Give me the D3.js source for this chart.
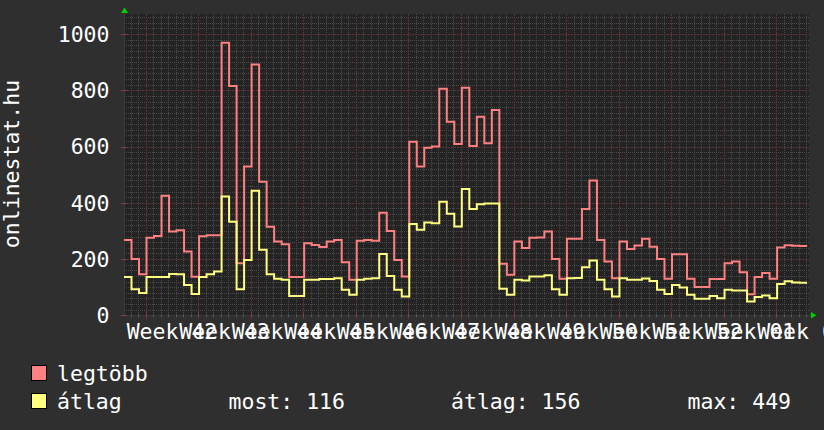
<!DOCTYPE html>
<html><head><meta charset="utf-8">
<script src="https://cdn.jsdelivr.net/npm/d3@7"></script>
<style>html,body{margin:0;padding:0;background:#2f2f2f;}svg{display:block;}</style>
</head><body>
<script>
// ---- data (daily values, one per day) ----
const legtobb = [268,200,146,276,282,425,298,302,227,137,
  281,285,285,969,815,185,529,892,475,315,
  262,253,136,136,256,250,243,262,268,189,
  126,265,268,265,365,300,197,138,617,529,
  596,600,805,688,609,809,602,706,612,730,
  183,144,262,239,276,277,298,200,130,272,
  272,378,479,268,191,132,262,236,248,272,
  244,200,130,217,217,130,101,101,129,129,
  185,191,153,75,136,150,130,241,249,247,246];
const atlag = [136,93,79,136,136,136,147,146,108,76,
  136,146,156,422,333,93,197,443,233,146,
  130,126,69,69,126,126,129,129,132,91,
  73,126,130,132,218,140,91,67,325,304,
  330,327,404,361,316,449,378,395,397,397,
  94,73,126,124,138,138,142,93,73,132,
  133,171,195,126,93,67,132,126,126,131,
  122,91,76,108,99,73,59,59,69,61,
  91,88,88,49,65,70,61,111,121,117,116];
const weekLabels = ["Week 42","Week 43","Week 44","Week 45","Week 46","Week 47","Week 48",
  "Week 49","Week 50","Week 51","Week 52","Week 01","Week 02"];
const yTicks = [0,200,400,600,800,1000];
const seriesNames = ["legtöbb","átlag"];
const seriesColors = ["#ff8080","#ffff80"];
const statLabels = ["most: 116","átlag: 156","max: 449"];
const yTitle = "onlinestat.hu";
const firstWeekStart = 2.89; // day offset of first week boundary from left edge
const totalDays = 91.25;

const W = 824, H = 430;
const L = 124, R = 809, T = 14, B = 315.3;
const FONT = "'DejaVu Sans Mono', monospace";
const FS = "21.5px";

const svg = d3.select("body").append("svg").attr("width", W).attr("height", H);
svg.append("rect").attr("width", W).attr("height", H).attr("fill", "#2f2f2f");
svg.append("rect").attr("x", L).attr("y", T).attr("width", R - L).attr("height", B - T).attr("fill", "#232323");

const x = d3.scaleLinear().domain([0, totalDays]).range([L, R]);
const y = d3.scaleLinear().domain([0, 1000]).range([B, 34]);
const yTop = y.invert(T);

const g = svg.append("g");
// minor horizontal grid
const minorY = d3.range(20, yTop, 20).filter(v => v % 200 !== 0);
g.selectAll(".hm").data(minorY).enter().append("line")
  .attr("x1", L).attr("x2", R)
  .attr("y1", d => Math.round(y(d)) + 0.5).attr("y2", d => Math.round(y(d)) + 0.5)
  .attr("stroke", "#4a4a4a").attr("stroke-dasharray", "1,1");
// minor vertical grid (daily)
const minorDays = d3.range(firstWeekStart - Math.floor(firstWeekStart), totalDays, 1)
  .filter(d => Math.abs(((d - firstWeekStart) / 7) - Math.round((d - firstWeekStart) / 7)) > 0.01);
g.selectAll(".vm").data(minorDays).enter().append("line")
  .attr("y1", T).attr("y2", B)
  .attr("x1", d => Math.round(x(d)) + 0.5).attr("x2", d => Math.round(x(d)) + 0.5)
  .attr("stroke", "#4a4a4a").attr("stroke-dasharray", "1,1");
// major grid
const weekTicks = weekLabels.map((_, i) => firstWeekStart + 7 * i);
g.selectAll(".hM").data(yTicks.filter(v => v > 0)).enter().append("line")
  .attr("x1", L).attr("x2", R)
  .attr("y1", d => Math.round(y(d)) + 0.5).attr("y2", d => Math.round(y(d)) + 0.5)
  .attr("stroke", "#603434").attr("stroke-dasharray", "2,1");
g.selectAll(".vM").data(weekTicks).enter().append("line")
  .attr("y1", T).attr("y2", B)
  .attr("x1", d => Math.round(x(d)) + 0.5).attr("x2", d => Math.round(x(d)) + 0.5)
  .attr("stroke", "#603434").attr("stroke-dasharray", "2,1");

// axes lines + ticks
const ax = svg.append("g");
ax.append("line").attr("x1", L - 2).attr("x2", R + 2).attr("y1", Math.round(B) + 0.5).attr("y2", Math.round(B) + 0.5).attr("stroke", "#3a3a3a");
ax.append("line").attr("x1", L + 0.5).attr("x2", L + 0.5).attr("y1", T - 2).attr("y2", B + 2).attr("stroke", "#3a3a3a");
ax.selectAll(".xt").data(minorDays).enter().append("line")
  .attr("x1", d => Math.round(x(d)) + 0.5).attr("x2", d => Math.round(x(d)) + 0.5)
  .attr("y1", B - 1).attr("y2", B + 2).attr("stroke", "#5a5a5a");
ax.selectAll(".xT").data(weekTicks).enter().append("line")
  .attr("x1", d => Math.round(x(d)) + 0.5).attr("x2", d => Math.round(x(d)) + 0.5)
  .attr("y1", B - 3).attr("y2", B + 3).attr("stroke", "#8a3c3c");
ax.selectAll(".yT").data(yTicks).enter().append("line")
  .attr("x1", L - 3).attr("x2", L + 3)
  .attr("y1", d => Math.round(y(d)) + 0.5).attr("y2", d => Math.round(y(d)) + 0.5)
  .attr("stroke", "#8a3c3c");

// arrows
svg.append("path").attr("d", `M${L - 3},13 L${L + 4},13 L${L + 0.5},7.5 Z`).attr("fill", "#00d000");
svg.append("path").attr("d", `M${R + 2},312 L${R + 2},318.5 L${R + 7.5},315.3 Z`).attr("fill", "#00d000");

// series lines (step)
const line = d3.line().x(d => x(d[0])).y(d => y(d[1])).curve(d3.curveStepAfter);
[legtobb, atlag].forEach((s, si) => {
  const pts = s.map((v, i) => [i, v]);
  pts.push([s.length, s[s.length - 1]]);
  svg.append("path").attr("d", line(pts)).attr("fill", "none")
    .attr("stroke", seriesColors[si]).attr("stroke-width", 2);
});

// y tick labels
svg.selectAll(".yl").data(yTicks).enter().append("text")
  .attr("x", 109.5).attr("y", d => y(d) + 7.8)
  .attr("text-anchor", "end").attr("fill", "#ffffff")
  .style("font-family", FONT).style("font-size", FS).text(d => d);
// x tick labels (centred on week)
svg.selectAll(".xl").data(weekLabels).enter().append("text")
  .attr("x", (d, i) => x(weekTicks[i] + 3.5)).attr("y", 339)
  .attr("text-anchor", "middle").attr("fill", "#ffffff")
  .style("font-family", FONT).style("font-size", FS).text(d => d);
// y title
svg.append("text").attr("transform", "translate(18.5,164) rotate(-90)")
  .attr("text-anchor", "middle").attr("fill", "#ffffff")
  .style("font-family", FONT).style("font-size", FS).text(yTitle);

// legend
const legY = [380.5, 408.5];
seriesNames.forEach((n, i) => {
  svg.append("rect").attr("x", 31.5).attr("y", legY[i] - 15).attr("width", 15).attr("height", 15)
    .attr("fill", seriesColors[i]).attr("stroke", "#000").attr("stroke-width", 1);
  svg.append("text").attr("x", 57).attr("y", legY[i]).attr("fill", "#fff")
    .style("font-family", FONT).style("font-size", FS).text(n);
});
const statX = [228.5, 451, 687.5];
statLabels.forEach((t, i) => {
  svg.append("text").attr("x", statX[i]).attr("y", legY[1]).attr("fill", "#fff")
    .style("font-family", FONT).style("font-size", FS).text(t);
});
</script>
</body></html>
